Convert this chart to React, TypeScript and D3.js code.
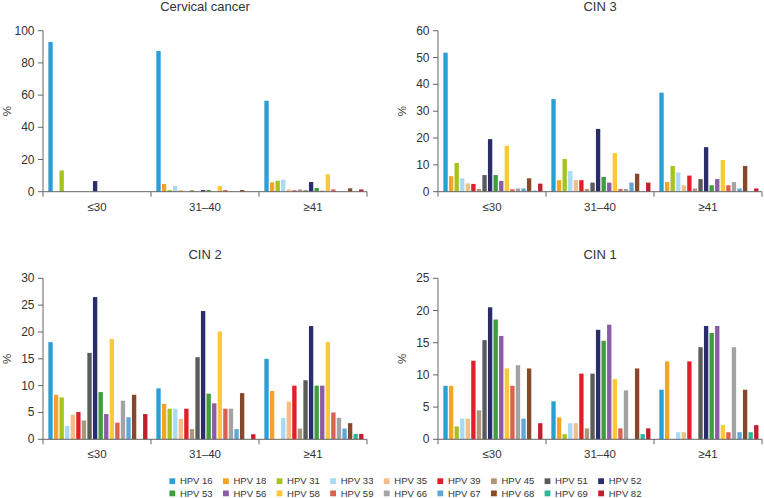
import React from 'react';
import * as d3 from 'd3';

const hpvTypes = ['HPV 16', 'HPV 18', 'HPV 31', 'HPV 33', 'HPV 35', 'HPV 39', 'HPV 45', 'HPV 51', 'HPV 52',
  'HPV 53', 'HPV 56', 'HPV 58', 'HPV 59', 'HPV 66', 'HPV 67', 'HPV 68', 'HPV 69', 'HPV 82'];

const hpvColors = ['#2a9fd6', '#f4a425', '#a5c31d', '#a9daf4', '#f5bd88', '#e31e2a', '#ad977c', '#5b5b5b', '#2b2c6c',
  '#3e9d3c', '#8c5ba5', '#fbc73b', '#dc5f4f', '#a3a3a3', '#5ba8d9', '#87492c', '#2fb59c', '#c61d2b'];

const ageGroups = ['≤30', '31–40', '≥41'];

// one row per age group, values in the order of hpvTypes
const cancerValues = [
  [93, 0, 13.2, 0, 0, 0, 0, 0, 6.6, 0, 0, 0, 0, 0, 0, 0, 0, 0],
  [87.4, 4.8, 1, 3.5, 1, 0, 1, 0, 1, 1, 0, 3.5, 1, 0, 0, 1, 0, 0],
  [56.5, 5.8, 6.8, 7.5, 1.4, 0.8, 1.4, 0.8, 6, 2.3, 0.6, 10.8, 1.4, 0, 0, 2.1, 0, 1.4],
];
const cin3Values = [
  [51.8, 5.8, 10.7, 5, 3.1, 2.9, 1, 6.2, 19.6, 6.2, 4, 17.1, 0.9, 1.2, 1.2, 5, 0.4, 3],
  [34.5, 4.3, 12.2, 7.7, 4.3, 4.3, 1, 3.4, 23.4, 5.5, 3.4, 14.4, 1, 1, 3.4, 6.7, 0, 3.4],
  [36.9, 3.6, 9.6, 7.2, 2.4, 6, 1.2, 4.7, 16.6, 2.4, 4.7, 11.8, 2.4, 3.6, 1.2, 9.6, 0, 1.2],
];
const cin2Values = [
  [18.1, 8.3, 7.8, 2.5, 4.6, 5.1, 3.5, 16.1, 26.5, 8.8, 4.7, 18.7, 3.1, 7.2, 4.1, 8.3, 0, 4.7],
  [9.5, 6.6, 5.7, 5.7, 3.8, 5.7, 1.9, 15.3, 23.9, 8.5, 6.7, 20.1, 5.7, 5.7, 1.9, 8.6, 0, 0.95],
  [15, 9, 0, 4, 7, 10, 2, 11, 21.1, 10, 10, 18.1, 5, 4, 2, 3, 1, 1],
];
const cin1Values = [
  [8.3, 8.3, 2, 3.2, 3.2, 12.2, 4.5, 15.4, 20.5, 18.6, 16.05, 11, 8.3, 11.5, 3.2, 11, 0, 2.5],
  [5.9, 3.4, 0.8, 2.5, 2.5, 10.2, 1.7, 10.2, 17, 15.3, 17.8, 9.35, 1.7, 7.6, 0, 11, 0.8, 1.7],
  [7.7, 12.1, 0, 1.1, 1.1, 12.1, 0, 14.3, 17.6, 16.5, 17.6, 2.2, 1.1, 14.3, 1.1, 7.7, 1.1, 2.2],
];

const panelTitles = ['Cervical cancer', 'CIN 3', 'CIN 2', 'CIN 1'];
const panelMax = [100, 60, 30, 25];
const panelStep = [20, 10, 5, 5];
const panelValues = [cancerValues, cin3Values, cin2Values, cin1Values];

const FONT = '"Liberation Sans", Arial, sans-serif';
const TEXT = '#333';
const AXIS = '#666';

const plotW = 324;
const plotH = 161;
const origins = [[43, 30.7], [438, 30.7], [43, 278.3], [438, 278.3]];

type PanelProps = { idx: number };

const Panel = ({ idx }: PanelProps) => {
  const [ox, oy] = origins[idx];
  const values = panelValues[idx];
  const x0 = d3.scaleBand().domain(ageGroups).range([0, plotW]).padding(0);
  const x1 = d3.scaleBand().domain(hpvTypes).range([0, x0.bandwidth()])
    .paddingInner(0.22).paddingOuter(0.8).align(0.6);
  const y = d3.scaleLinear().domain([0, panelMax[idx]]).range([plotH, 0]);
  const ticks = d3.range(0, panelMax[idx] + 0.001, panelStep[idx]);
  const color = d3.scaleOrdinal<string, string>().domain(hpvTypes).range(hpvColors);

  return (
    <g transform={`translate(${ox},${oy})`}>
      <text x={plotW / 2} y={-19.7} textAnchor="middle" fontSize={13} fill={TEXT} fontFamily={FONT}>
        {panelTitles[idx]}
      </text>
      <text transform={`translate(${-36.5},${plotH / 2}) rotate(-90)`} textAnchor="middle"
        dominantBaseline="central" fontSize={11.5} fill={TEXT} fontFamily={FONT}>%</text>
      {ageGroups.map((g, gi) => (
        <g key={g} transform={`translate(${x0(g)},0)`}>
          {hpvTypes.map((t, ti) => {
            const v = values[gi][ti];
            if (!v) return null;
            return (
              <rect key={t} x={x1(t)} y={y(v)} width={x1.bandwidth()} height={plotH - y(v)} fill={color(t)} />
            );
          })}
          <text x={x0.bandwidth() / 2} y={plotH + 19} textAnchor="middle" fontSize={11.5}
            fill={TEXT} fontFamily={FONT}>{g}</text>
        </g>
      ))}
      {ticks.map(t => (
        <g key={t} transform={`translate(0,${y(t)})`}>
          <line x1={-5} x2={0} stroke={AXIS} strokeWidth={1} />
          <text x={-8.5} textAnchor="end" dominantBaseline="central" fontSize={12}
            fill={TEXT} fontFamily={FONT}>{t}</text>
        </g>
      ))}
      <line x1={0} x2={0} y1={0} y2={plotH + 5} stroke={AXIS} strokeWidth={1} />
      <line x1={0} x2={plotW} y1={plotH} y2={plotH} stroke={AXIS} strokeWidth={1} />
      {ageGroups.map(g => (
        <line key={g} x1={x0(g)! + x0.bandwidth()} x2={x0(g)! + x0.bandwidth()} y1={plotH} y2={plotH + 5}
          stroke={AXIS} strokeWidth={1} />
      ))}
    </g>
  );
};

const Legend = () => {
  const perRow = 9;
  const itemX = d3.scaleLinear().domain([0, perRow - 1]).range([169.4, 169.4 + 53.6 * 8]);
  const rowY = [484.3, 496.5];
  return (
    <g>
      {hpvTypes.map((t, i) => {
        const col = i % perRow;
        const row = Math.floor(i / perRow);
        const x = itemX(col);
        const by = rowY[row];
        return (
          <g key={t}>
            <rect x={x} y={by - 6} width={5.8} height={5.8} fill={hpvColors[i]} />
            <text x={x + 10.5} y={by} fontSize={9.5} fill={TEXT} fontFamily={FONT}>{t}</text>
          </g>
        );
      })}
    </g>
  );
};

const App = () => (
  <div style={{ position: 'absolute', left: 0, top: 0 }}>
    <svg width={764} height={498} style={{ display: 'block', background: '#fff' }}>
      {panelTitles.map((_, i) => <Panel key={i} idx={i} />)}
      <Legend />
    </svg>
  </div>
);

export default App;
